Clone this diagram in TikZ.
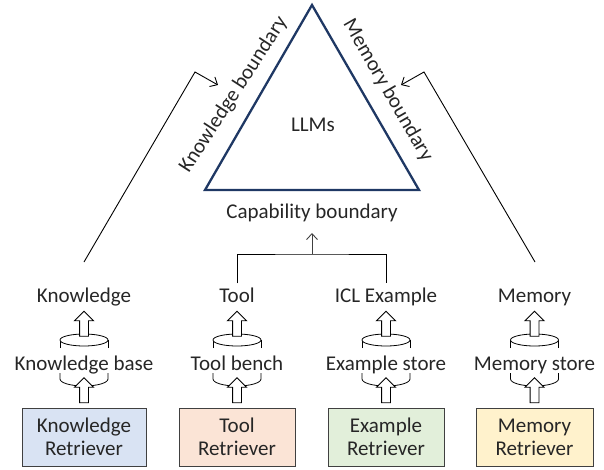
\documentclass[tikz,border=0pt]{standalone}
\usepackage{fontspec}
\setmainfont{Carlito}
\usetikzlibrary{arrows.meta,shapes.arrows}

\definecolor{navyline}{HTML}{1F3864}
\definecolor{boxblue}{HTML}{D9E3F3}
\definecolor{boxorange}{HTML}{FBE4D6}
\definecolor{boxgreen}{HTML}{E2EFDA}
\definecolor{boxyellow}{HTML}{FFF2CC}

\tikzset{
  txt/.style={font=\fontsize{21}{23}\selectfont, text=black!85, inner sep=0pt, align=center},
  lab/.style={txt, text height=19pt, text depth=4pt},
  retriever/.style={txt, draw=black!75, line width=0.9pt, minimum height=58pt},
  thin arrow/.style={-{Straight Barb[length=6pt,width=11pt]}, line width=0.9pt},
  block arrow/.style={single arrow, draw=black, fill=white, line width=0.9pt, rotate=90,
    inner sep=4pt, minimum height=25pt, single arrow head extend=5pt},
  store can/.pic={
    \draw [line width=0.8pt] (-24,15) -- (-24,23) (24,15) -- (24,23);
    \draw [line width=0.8pt, fill=white] (0,23) ellipse (24 and 6);
    \draw [line width=0.8pt] (-24,-10) -- (-24,-16) arc (180:360:24 and 7) -- (24,-10);
  }
}

\begin{document}
\begin{tikzpicture}[x=1pt,y=1pt,node distance=74pt]
\useasboundingbox (0,0) rectangle (604,469);

\node [retriever, fill=boxblue, minimum width=124pt] (R0) at (84,32) {Knowledge\\Retriever};
\node [retriever, fill=boxorange, minimum width=116pt] (R1) at (237,32) {Tool\\Retriever};
\node [retriever, fill=boxgreen, minimum width=116pt] (R2) at (386,32) {Example\\Retriever};
\node [retriever, fill=boxyellow, minimum width=117pt] (R3) at (534.5,32) {Memory\\Retriever};

\coordinate [above of = R0] (C0);
\coordinate [above of = R1] (C1);
\coordinate [above of = R2] (C2);
\coordinate [above of = R3] (C3);

\pic at (C0) {store can};
\pic at (C1) {store can};
\pic at (C2) {store can};
\pic at (C3) {store can};

\node [lab, above of = R0] (S0) {Knowledge base};
\node [lab, above of = R1] (S1) {Tool bench};
\node [lab, above of = R2] (S2) {Example store};
\node [lab, above of = R3] (S3) {Memory store};

\node [lab, above of = S0, node distance=68pt] (K0) {Knowledge};
\node [lab, above of = S1, node distance=68pt] (K1) {Tool};
\node [lab, above of = S2, node distance=68pt] (K2) {ICL Example};
\node [lab, above of = S3, node distance=68pt] (K3) {Memory};

% lower and upper block arrows
\node [block arrow] (A0) at (84,76.5) {};
\node [block arrow] (A1) at (237,76.5) {};
\node [block arrow] (A2) at (386,76.5) {};
\node [block arrow] (A3) at (534.5,76.5) {};
\node [block arrow] (B0) at (84,143) {};
\node [block arrow] (B1) at (237,143) {};
\node [block arrow] (B2) at (386,143) {};
\node [block arrow] (B3) at (534.5,143) {};

\coordinate (T0) at (312,464);
\coordinate (T1) at (205,279);
\coordinate (T2) at (419,279);
\draw [navyline, line width=2.3pt, miter limit=10] (T0) -- (T1) -- (T2) -- cycle;

\node [lab] (L0) at (313,345) {LLMs};
\node [lab] (L1) at (312,258) {Capability boundary};
\node [lab, rotate=57] (L2) at (232,375.5) {Knowledge boundary};
\node [lab, rotate=-60] (L3) at (389.5,379.5) {Memory boundary};

\coordinate (P0) at (84,207);
\coordinate (P1) at (195,397);
\coordinate (P2) at (218,384);
\coordinate (Q0) at (535,207);
\coordinate (Q1) at (424,397);
\coordinate (Q2) at (401,384);
\coordinate (M0) at (312,215);
\coordinate (M1) at (312,236);

\draw [thin arrow] (P0) -- (P1) -- (P2);
\draw [thin arrow] (Q0) -- (Q1) -- (Q2);

\draw [line width=0.9pt] (K1.north) |- (M0) -| (K2.north);
\draw [thin arrow, black!75] (M0) -- (M1);

\end{tikzpicture}
\end{document}
